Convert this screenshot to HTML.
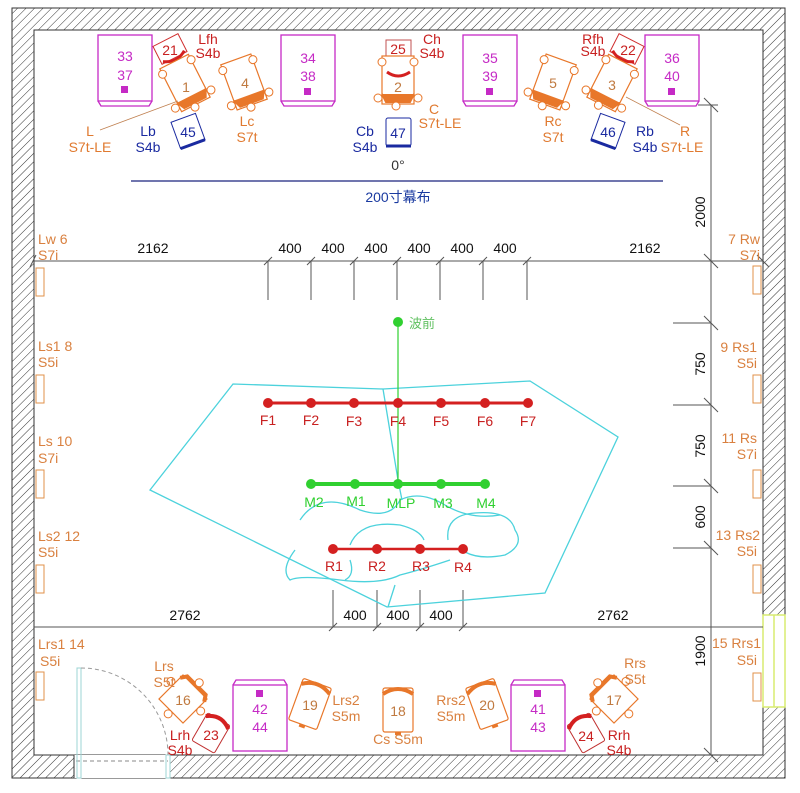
<!DOCTYPE html>
<html><head><meta charset="utf-8"><style>
html,body{margin:0;padding:0;background:#fff}
svg text{font-family:"Liberation Sans","Noto Sans CJK SC",sans-serif}
</style></head><body>
<svg width="800" height="788" viewBox="0 0 800 788" xmlns="http://www.w3.org/2000/svg">
<defs>
<pattern id="h" width="6" height="6" patternUnits="userSpaceOnUse" patternTransform="rotate(45)">
<rect width="6" height="6" fill="#fff"/><line x1="0" y1="0" x2="0" y2="6" stroke="#333" stroke-width="1"/>
</pattern>
<g id="spk"><rect x="-16" y="-24" width="32" height="48" fill="none" stroke="#e8772a" stroke-width="1.2"/>
<path d="M-16 14 L-12 22 L12 22 L16 14" fill="#e8772a" stroke="#e8772a" stroke-width="2"/>
<circle cx="-16" cy="-18" r="4" fill="#fff" stroke="#e8772a"/><circle cx="16" cy="-18" r="4" fill="#fff" stroke="#e8772a"/>
<circle cx="-20" cy="18" r="4" fill="#fff" stroke="#e8772a"/><circle cx="20" cy="18" r="4" fill="#fff" stroke="#e8772a"/>
<circle cx="-2" cy="26" r="4" fill="#fff" stroke="#e8772a"/></g>
<g id="tw"><rect x="-17" y="-17" width="34" height="34" fill="none" stroke="#e8772a" stroke-width="1.2"/>
<path d="M-17 -13 L-13 -19 L13 -19 L17 -13" fill="none" stroke="#e8772a" stroke-width="4"/>
<circle cx="-21" cy="-4" r="4" fill="#fff" stroke="#e8772a"/><circle cx="21" cy="-4" r="4" fill="#fff" stroke="#e8772a"/>
<circle cx="0" cy="-23" r="4" fill="#fff" stroke="#e8772a"/><circle cx="0" cy="21" r="4" fill="#fff" stroke="#e8772a"/></g>
<g id="sm"><rect x="-15" y="-22" width="30" height="44" fill="none" stroke="#e8772a" stroke-width="1.2" rx="2"/>
<path d="M-15 -16 Q0 -26 15 -16" fill="none" stroke="#e8772a" stroke-width="4"/><rect x="-3" y="22" width="6" height="3" fill="#e8772a"/></g>
<g id="mag"><rect x="-27" y="-35" width="54" height="66" fill="none" stroke="#c52ac5" stroke-width="1.3"/>
<path d="M-27 31 L-24 36 L24 36 L27 31" fill="none" stroke="#c52ac5" stroke-width="1.3"/></g>
<g id="ws"><rect x="0" y="0" width="8" height="28" fill="none" stroke="#e0904a" stroke-width="1"/></g>
</defs>
<!-- walls -->
<path d="M12 8 H785 V778 H12 Z M34 30 V755 H763 V30 Z" fill="url(#h)" fill-rule="evenodd" stroke="#333" stroke-width="1"/>
<rect x="74" y="755" width="96" height="23" fill="#fff"/>
<line x1="74" y1="755" x2="74" y2="778" stroke="#333"/><line x1="170" y1="755" x2="170" y2="778" stroke="#333"/>
<line x1="76" y1="761" x2="168" y2="761" stroke="#888" stroke-dasharray="4,3"/>
<rect x="77" y="668" width="4" height="110" fill="none" stroke="#9cd4d4"/>
<rect x="166" y="755" width="4" height="23" fill="none" stroke="#9cd4d4"/>
<path d="M81 668 A87 87 0 0 1 168 755" fill="none" stroke="#999" stroke-dasharray="4,3"/>
<rect x="763" y="615" width="22" height="92" fill="#fff" stroke="#d8ec70" stroke-width="1.5"/>
<line x1="774" y1="615" x2="774" y2="707" stroke="#d8ec70" stroke-width="1.5"/>

<!-- dimension lines -->
<g stroke="#555" stroke-width="1" fill="none">
<line x1="34" y1="261" x2="763" y2="261"/>
<line x1="34" y1="627" x2="763" y2="627"/>
<line x1="711" y1="105" x2="711" y2="755"/>
<path d="M268 261V300M311 261V300M354 261V300M397 261V300M440 261V300M483 261V300M527 261V300"/>
<path d="M333 590V627M377 590V627M420 590V627M463 590V627"/>
<path d="M673 323H711M673 405H711M673 486H711M673 548H711M698 105H718"/>
<path d="M264 265L272 257M307 265L315 257M350 265L358 257M393 265L401 257M436 265L444 257M479 265L487 257M523 265L531 257"/>
<path d="M329 631L337 623M373 631L381 623M416 631L424 623M459 631L467 623"/>
<path d="M704 316L718 330M704 398L718 412M704 479L718 493M704 541L718 555M704 98L718 112M704 254L718 268M704 748L718 762M757 255L769 267M36 255L30 267"/>
</g>
<g font-size="14" fill="#111" text-anchor="middle">
<text x="153" y="253">2162</text><text x="645" y="253">2162</text>
<text x="290" y="253">400</text><text x="333" y="253">400</text><text x="376" y="253">400</text><text x="419" y="253">400</text><text x="462" y="253">400</text><text x="505" y="253">400</text>
<text x="185" y="620">2762</text><text x="613" y="620">2762</text>
<text x="355" y="620">400</text><text x="398" y="620">400</text><text x="441" y="620">400</text>
<text transform="translate(705,212) rotate(-90)">2000</text>
<text transform="translate(705,364) rotate(-90)">750</text>
<text transform="translate(705,446) rotate(-90)">750</text>
<text transform="translate(705,517) rotate(-90)">600</text>
<text transform="translate(705,651) rotate(-90)">1900</text>
</g>

<!-- screen -->
<line x1="131" y1="181" x2="663" y2="181" stroke="#1a237e" stroke-width="1.3"/>
<text x="398" y="202" font-size="14" fill="#1a3aa0" text-anchor="middle">200寸幕布</text>
<text x="398" y="170" font-size="14" fill="#333" text-anchor="middle">0°</text>

<!-- cyan outline -->
<g fill="none" stroke="#4cd2dc" stroke-width="1.3">
<path d="M233 384 L383 389 L530 381 L618 437 L545 593 L387 607 L150 490 Z"/>
<path d="M383 389 L398 480 L402 500"/>
<path d="M300 520 Q320 490 360 510 Q390 520 400 500 Q420 490 445 505 Q470 520 500 515"/>
<path d="M350 545 Q360 520 400 525 Q420 530 424 540"/>
<path d="M448 540 Q445 515 475 513 Q510 510 515 530 Q525 545 505 555 Q480 560 465 552"/>
<path d="M295 550 Q280 570 290 580 Q300 575 340 580 Q380 585 400 575 Q420 570 450 560"/>
<path d="M350 560 Q355 575 345 580"/>
<path d="M395 585 L388 607"/>
</g>

<!-- measurement points -->
<line x1="398" y1="322" x2="398" y2="484" stroke="#30d030" stroke-width="1.2"/>
<circle cx="398" cy="322" r="5" fill="#30d030"/>
<text x="409" y="328" font-size="13" fill="#60c060">波前</text>
<line x1="268" y1="403" x2="528" y2="403" stroke="#d42020" stroke-width="3"/>
<g fill="#d42020"><circle cx="268" cy="403" r="5"/><circle cx="311" cy="403" r="5"/><circle cx="354" cy="403" r="5"/><circle cx="398" cy="403" r="5"/><circle cx="441" cy="403" r="5"/><circle cx="485" cy="403" r="5"/><circle cx="528" cy="403" r="5"/>
<circle cx="333" cy="549" r="5"/><circle cx="377" cy="549" r="5"/><circle cx="420" cy="549" r="5"/><circle cx="463" cy="549" r="5"/></g>
<line x1="333" y1="549" x2="463" y2="549" stroke="#d42020" stroke-width="2.5"/>
<line x1="311" y1="484" x2="485" y2="484" stroke="#30d030" stroke-width="4"/>
<g fill="#30d030"><circle cx="311" cy="484" r="5"/><circle cx="355" cy="484" r="5"/><circle cx="398" cy="484" r="5"/><circle cx="441" cy="484" r="5"/><circle cx="485" cy="484" r="5"/></g>
<g font-size="14" fill="#c82020" text-anchor="middle">
<text x="268" y="425">F1</text><text x="311" y="425">F2</text><text x="354" y="426">F3</text><text x="398" y="426">F4</text><text x="441" y="426">F5</text><text x="485" y="426">F6</text><text x="528" y="426">F7</text>
<text x="334" y="571">R1</text><text x="377" y="571">R2</text><text x="421" y="571">R3</text><text x="463" y="572">R4</text>
</g>
<g font-size="14" fill="#30d030" text-anchor="middle">
<text x="314" y="507">M2</text><text x="356" y="506">M1</text><text x="401" y="508">MLP</text><text x="443" y="508">M3</text><text x="486" y="508">M4</text>
</g>

<!-- magenta boxes -->
<g font-size="14" fill="#c52ac5" text-anchor="middle">
<use href="#mag" x="125" y="70"/><text x="125" y="61">33</text><text x="125" y="80">37</text><rect x="121" y="86" width="7" height="7" fill="#c52ac5"/>
<use href="#mag" x="308" y="70"/><text x="308" y="63">34</text><text x="308" y="81">38</text><rect x="304" y="88" width="7" height="7" fill="#c52ac5"/>
<use href="#mag" x="490" y="70"/><text x="490" y="63">35</text><text x="490" y="81">39</text><rect x="486" y="88" width="7" height="7" fill="#c52ac5"/>
<use href="#mag" x="672" y="70"/><text x="672" y="63">36</text><text x="672" y="81">40</text><rect x="668" y="88" width="7" height="7" fill="#c52ac5"/>
<g transform="translate(260,716) rotate(180)"><use href="#mag"/></g><rect x="256" y="690" width="7" height="7" fill="#c52ac5"/><text x="260" y="714">42</text><text x="260" y="732">44</text>
<g transform="translate(538,716) rotate(180)"><use href="#mag"/></g><rect x="534" y="690" width="7" height="7" fill="#c52ac5"/><text x="538" y="714">41</text><text x="538" y="732">43</text>
</g>

<!-- front speakers -->
<g transform="translate(170,49) rotate(-27)"><rect x="-14" y="-10" width="28" height="20" fill="#fff" stroke="#d03030"/><path d="M-12 8 Q0 16 12 8" stroke="#d42020" stroke-width="3" fill="none"/></g>
<text x="170" y="55" font-size="14" fill="#c82020" text-anchor="middle">21</text>
<g transform="translate(185,83) rotate(-27)"><use href="#spk"/></g><text x="186" y="92" font-size="14" fill="#c07a40" text-anchor="middle">1</text>
<g transform="translate(244,82) rotate(-20)"><use href="#spk"/></g><text x="245" y="88" font-size="14" fill="#c07a40" text-anchor="middle">4</text>
<rect x="386" y="40" width="25" height="16" fill="#fff" stroke="#c05050"/>
<g transform="translate(398,80)"><use href="#spk"/></g><path d="M387 72 Q398 80 410 72" stroke="#d42020" stroke-width="3" fill="none"/>
<text x="398" y="54" font-size="14" fill="#c82020" text-anchor="middle">25</text><text x="398" y="92" font-size="14" fill="#c07a40" text-anchor="middle">2</text>
<g transform="translate(553,82) rotate(20)"><use href="#spk"/></g><text x="553" y="88" font-size="14" fill="#c07a40" text-anchor="middle">5</text>
<g transform="translate(627,49) rotate(27)"><rect x="-14" y="-10" width="28" height="20" fill="#fff" stroke="#d03030"/><path d="M-12 8 Q0 16 12 8" stroke="#d42020" stroke-width="3" fill="none"/></g>
<text x="628" y="55" font-size="14" fill="#c82020" text-anchor="middle">22</text>
<g transform="translate(612,83) rotate(27)"><use href="#spk"/></g><text x="612" y="90" font-size="14" fill="#c07a40" text-anchor="middle">3</text>
<!-- blue -->
<g fill="none" stroke="#1a2aa0">
<g transform="translate(188,131) rotate(-20)"><rect x="-13" y="-14" width="26" height="28"/><path d="M-13 14 L13 14" stroke-width="3"/></g>
<rect x="386" y="118" width="25" height="28" rx="2"/><path d="M386 146 L411 146" stroke-width="3"/>
<g transform="translate(608,131) rotate(20)"><rect x="-13" y="-14" width="26" height="28"/><path d="M-13 14 L13 14" stroke-width="3"/></g>
</g>
<g font-size="14" fill="#1a2aa0" text-anchor="middle">
<text x="188" y="137">45</text><text x="398" y="138">47</text><text x="608" y="137">46</text>
<text x="148" y="136">Lb</text><text x="148" y="152">S4b</text>
<text x="365" y="136">Cb</text><text x="365" y="152">S4b</text>
<text x="645" y="136">Rb</text><text x="645" y="152">S4b</text>
</g>
<line x1="100" y1="130" x2="178" y2="101" stroke="#c08050" stroke-width="0.8"/>
<line x1="626" y1="97" x2="680" y2="125" stroke="#c08050" stroke-width="0.8"/>
<g font-size="14" fill="#e07a30" text-anchor="middle">
<text x="90" y="136">L</text><text x="90" y="152">S7t-LE</text>
<text x="247" y="126">Lc</text><text x="247" y="142">S7t</text>
<text x="434" y="114">C</text><text x="440" y="128">S7t-LE</text>
<text x="553" y="126">Rc</text><text x="553" y="142">S7t</text>
<text x="685" y="136">R</text><text x="682" y="152">S7t-LE</text>
</g>
<g font-size="14" fill="#c82020" text-anchor="middle">
<text x="208" y="44">Lfh</text><text x="208" y="58">S4b</text>
<text x="432" y="44">Ch</text><text x="432" y="58">S4b</text>
<text x="593" y="44">Rfh</text><text x="593" y="56">S4b</text>
</g>

<!-- wall speakers -->
<g>
<use href="#ws" x="36" y="268"/><use href="#ws" x="36" y="375"/><use href="#ws" x="36" y="470"/><use href="#ws" x="36" y="565"/><use href="#ws" x="36" y="672"/>
<use href="#ws" x="753" y="266"/><use href="#ws" x="753" y="375"/><use href="#ws" x="753" y="470"/><use href="#ws" x="753" y="565"/><use href="#ws" x="753" y="673"/>
</g>
<g font-size="14" fill="#d9803f">
<text x="38" y="244">Lw 6</text><text x="38" y="260">S7i</text>
<text x="38" y="351">Ls1 8</text><text x="38" y="367">S5i</text>
<text x="38" y="446">Ls 10</text><text x="38" y="463">S7i</text>
<text x="38" y="541">Ls2 12</text><text x="38" y="557">S5i</text>
<text x="38" y="649">Lrs1 14</text><text x="40" y="666">S5i</text>
</g>
<g font-size="14" fill="#d9803f" text-anchor="end">
<text x="760" y="244">7 Rw</text><text x="760" y="260">S7i</text>
<text x="757" y="352">9 Rs1</text><text x="757" y="368">S5i</text>
<text x="757" y="443">11 Rs</text><text x="757" y="459">S7i</text>
<text x="760" y="540">13 Rs2</text><text x="757" y="556">S5i</text>
<text x="761" y="648">15 Rrs1</text><text x="757" y="665">S5i</text>
</g>

<!-- rear speakers -->
<g transform="translate(183,699) rotate(45)"><use href="#tw"/></g><text x="183" y="705" font-size="14" fill="#c07a40" text-anchor="middle">16</text>
<g transform="translate(614,699) rotate(-45)"><use href="#tw"/></g><text x="614" y="705" font-size="14" fill="#c07a40" text-anchor="middle">17</text>
<g transform="translate(211,733) rotate(30)"><rect x="-13" y="-16" width="26" height="32" fill="#fff" stroke="#c03030" rx="2"/><path d="M-13 -12 Q0 -22 13 -12" stroke="#d42020" stroke-width="4" fill="none"/></g>
<text x="211" y="740" font-size="14" fill="#c82020" text-anchor="middle">23</text>
<g transform="translate(586,733) rotate(-30)"><rect x="-13" y="-16" width="26" height="32" fill="#fff" stroke="#c03030" rx="2"/><path d="M-13 -12 Q0 -22 13 -12" stroke="#d42020" stroke-width="4" fill="none"/></g>
<text x="586" y="741" font-size="14" fill="#c82020" text-anchor="middle">24</text>
<g transform="translate(310,704) rotate(20)"><use href="#sm"/></g><text x="310" y="710" font-size="14" fill="#c07a40" text-anchor="middle">19</text>
<g transform="translate(398,710)"><use href="#sm"/></g><text x="398" y="716" font-size="14" fill="#c07a40" text-anchor="middle">18</text>
<g transform="translate(487,704) rotate(-20)"><use href="#sm"/></g><text x="487" y="710" font-size="14" fill="#c07a40" text-anchor="middle">20</text>
<g font-size="14" fill="#d9803f" text-anchor="middle">
<text x="164" y="671">Lrs</text><text x="164" y="687">S5t</text>
<text x="346" y="705">Lrs2</text><text x="346" y="721">S5m</text>
<text x="398" y="744">Cs S5m</text>
<text x="451" y="705">Rrs2</text><text x="451" y="721">S5m</text>
<text x="635" y="668">Rrs</text><text x="635" y="684">S5t</text>
</g>
<g font-size="14" fill="#c82020" text-anchor="middle">
<text x="180" y="740">Lrh</text><text x="180" y="755">S4b</text>
<text x="619" y="740">Rrh</text><text x="619" y="755">S4b</text>
</g>
</svg>
</body></html>
